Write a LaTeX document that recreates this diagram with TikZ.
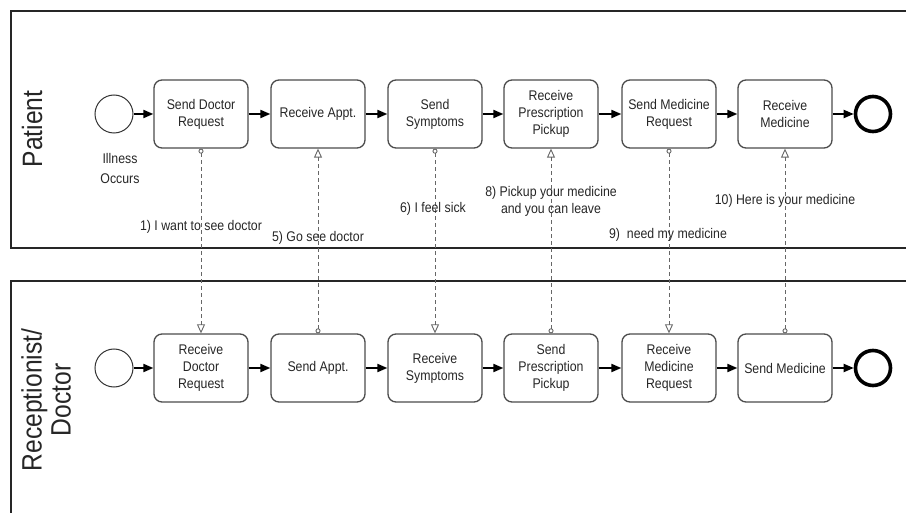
\documentclass[tikz,border=0pt]{standalone}
\usepackage{fontspec}
\setmainfont{Liberation Sans}[FakeStretch=0.88]
\usetikzlibrary{arrows.meta}
\definecolor{taskline}{gray}{0.30}
\definecolor{msgline}{gray}{0.40}
\definecolor{ink}{gray}{0.15}
\begin{document}
\begin{tikzpicture}[x=1pt,y=-1pt,
  pool/.style={draw=black!85, line width=2.2pt},
  task/.style={draw=taskline, line width=1.3pt, rounded corners=8pt,
    minimum width=94pt, minimum height=68pt, align=center, inner sep=1pt,
    text=ink, font=\fontsize{14}{17}\selectfont},
  startev/.style={circle, draw=black!80, line width=1pt, minimum size=38pt, inner sep=0pt},
  endev/.style={circle, draw=black, line width=3.6pt, minimum size=35pt, inner sep=0pt},
  seq/.style={draw=black, line width=2pt, -{Triangle[length=10pt,width=8pt]}},
  msg/.style={draw=msgline, line width=0.8pt, dash pattern=on 4pt off 3pt,
    arrows={Circle[open,length=5pt,line width=0.9pt]-Triangle[open,length=9pt,width=8pt,line width=0.9pt]}},
  lbl/.style={text=ink, align=center, inner sep=0pt, font=\fontsize{14}{17}\selectfont},
  lane/.style={text=ink, align=center, inner sep=0pt, rotate=90, font=\fontsize{28}{29}\selectfont}]
\useasboundingbox (0,0) rectangle (906,513);

% pools (both run past the right edge; the lower one past the bottom)
\draw[pool] (915,11) -- (11,11) -- (11,248) -- (915,248);
\draw[pool] (915,281) -- (11,281) -- (11,520);

% lane titles
\node[lane] (lanep) at (32,129) {Patient};
\node[lane] (laned) at (46,400) {Receptionist/\\Doctor};

% patient lane
\node[startev] (ps) at (114,114) {};
\node[lbl, font=\fontsize{14}{20}\selectfont] (psl) at (120,168) {Illness\\Occurs};
\node[task] (p1) at (201,114) {Send Doctor\\Request};
\node[task] (p2) at (318,114) {Receive Appt.};
\node[task] (p3) at (435,114) {Send\\Symptoms};
\node[task] (p4) at (551,114) {Receive\\Prescription\\Pickup};
\node[task] (p5) at (669,114) {Send Medicine\\Request};
\node[task] (p6) at (785,114) {Receive\\Medicine};
\node[endev] (pe) at (873,114) {};

% receptionist / doctor lane
\node[startev] (ds) at (114,368) {};
\node[task] (d1) at (201,368) {Receive\\Doctor\\Request};
\node[task] (d2) at (318,368) {Send Appt.};
\node[task] (d3) at (435,368) {Receive\\Symptoms};
\node[task] (d4) at (551,368) {Send\\Prescription\\Pickup};
\node[task] (d5) at (669,368) {Receive\\Medicine\\Request};
\node[task] (d6) at (785,368) {Send Medicine};
\node[endev] (de) at (873,368) {};

% sequence flows
\foreach \a/\b in {ps/p1,p1/p2,p2/p3,p3/p4,p4/p5,p5/p6,p6/pe,
                   ds/d1,d1/d2,d2/d3,d3/d4,d4/d5,d5/d6,d6/de}
  \draw[seq] (\a) -- (\b);

% message flows
\draw[msg] (p1.south) -- (d1.north);
\draw[msg] (d2.north) -- (p2.south);
\draw[msg] (p3.south) -- (d3.north);
\draw[msg] (d4.north) -- (p4.south);
\draw[msg] (p5.south) -- (d5.north);
\draw[msg] (d6.north) -- (p6.south);

% message labels
\node[lbl] (m1) at (201,227) {1) I want to see doctor};
\node[lbl] (m5) at (318,238) {5) Go see doctor};
\node[lbl] (m6) at (433,209) {6) I feel sick};
\node[lbl] (m8) at (551,201) {8) Pickup your medicine\\and you can leave};
\node[lbl] (m9) at (668,235) {9)\ \ need my medicine};
\node[lbl] (m10) at (785,201) {10) Here is your medicine};
\end{tikzpicture}
\end{document}
